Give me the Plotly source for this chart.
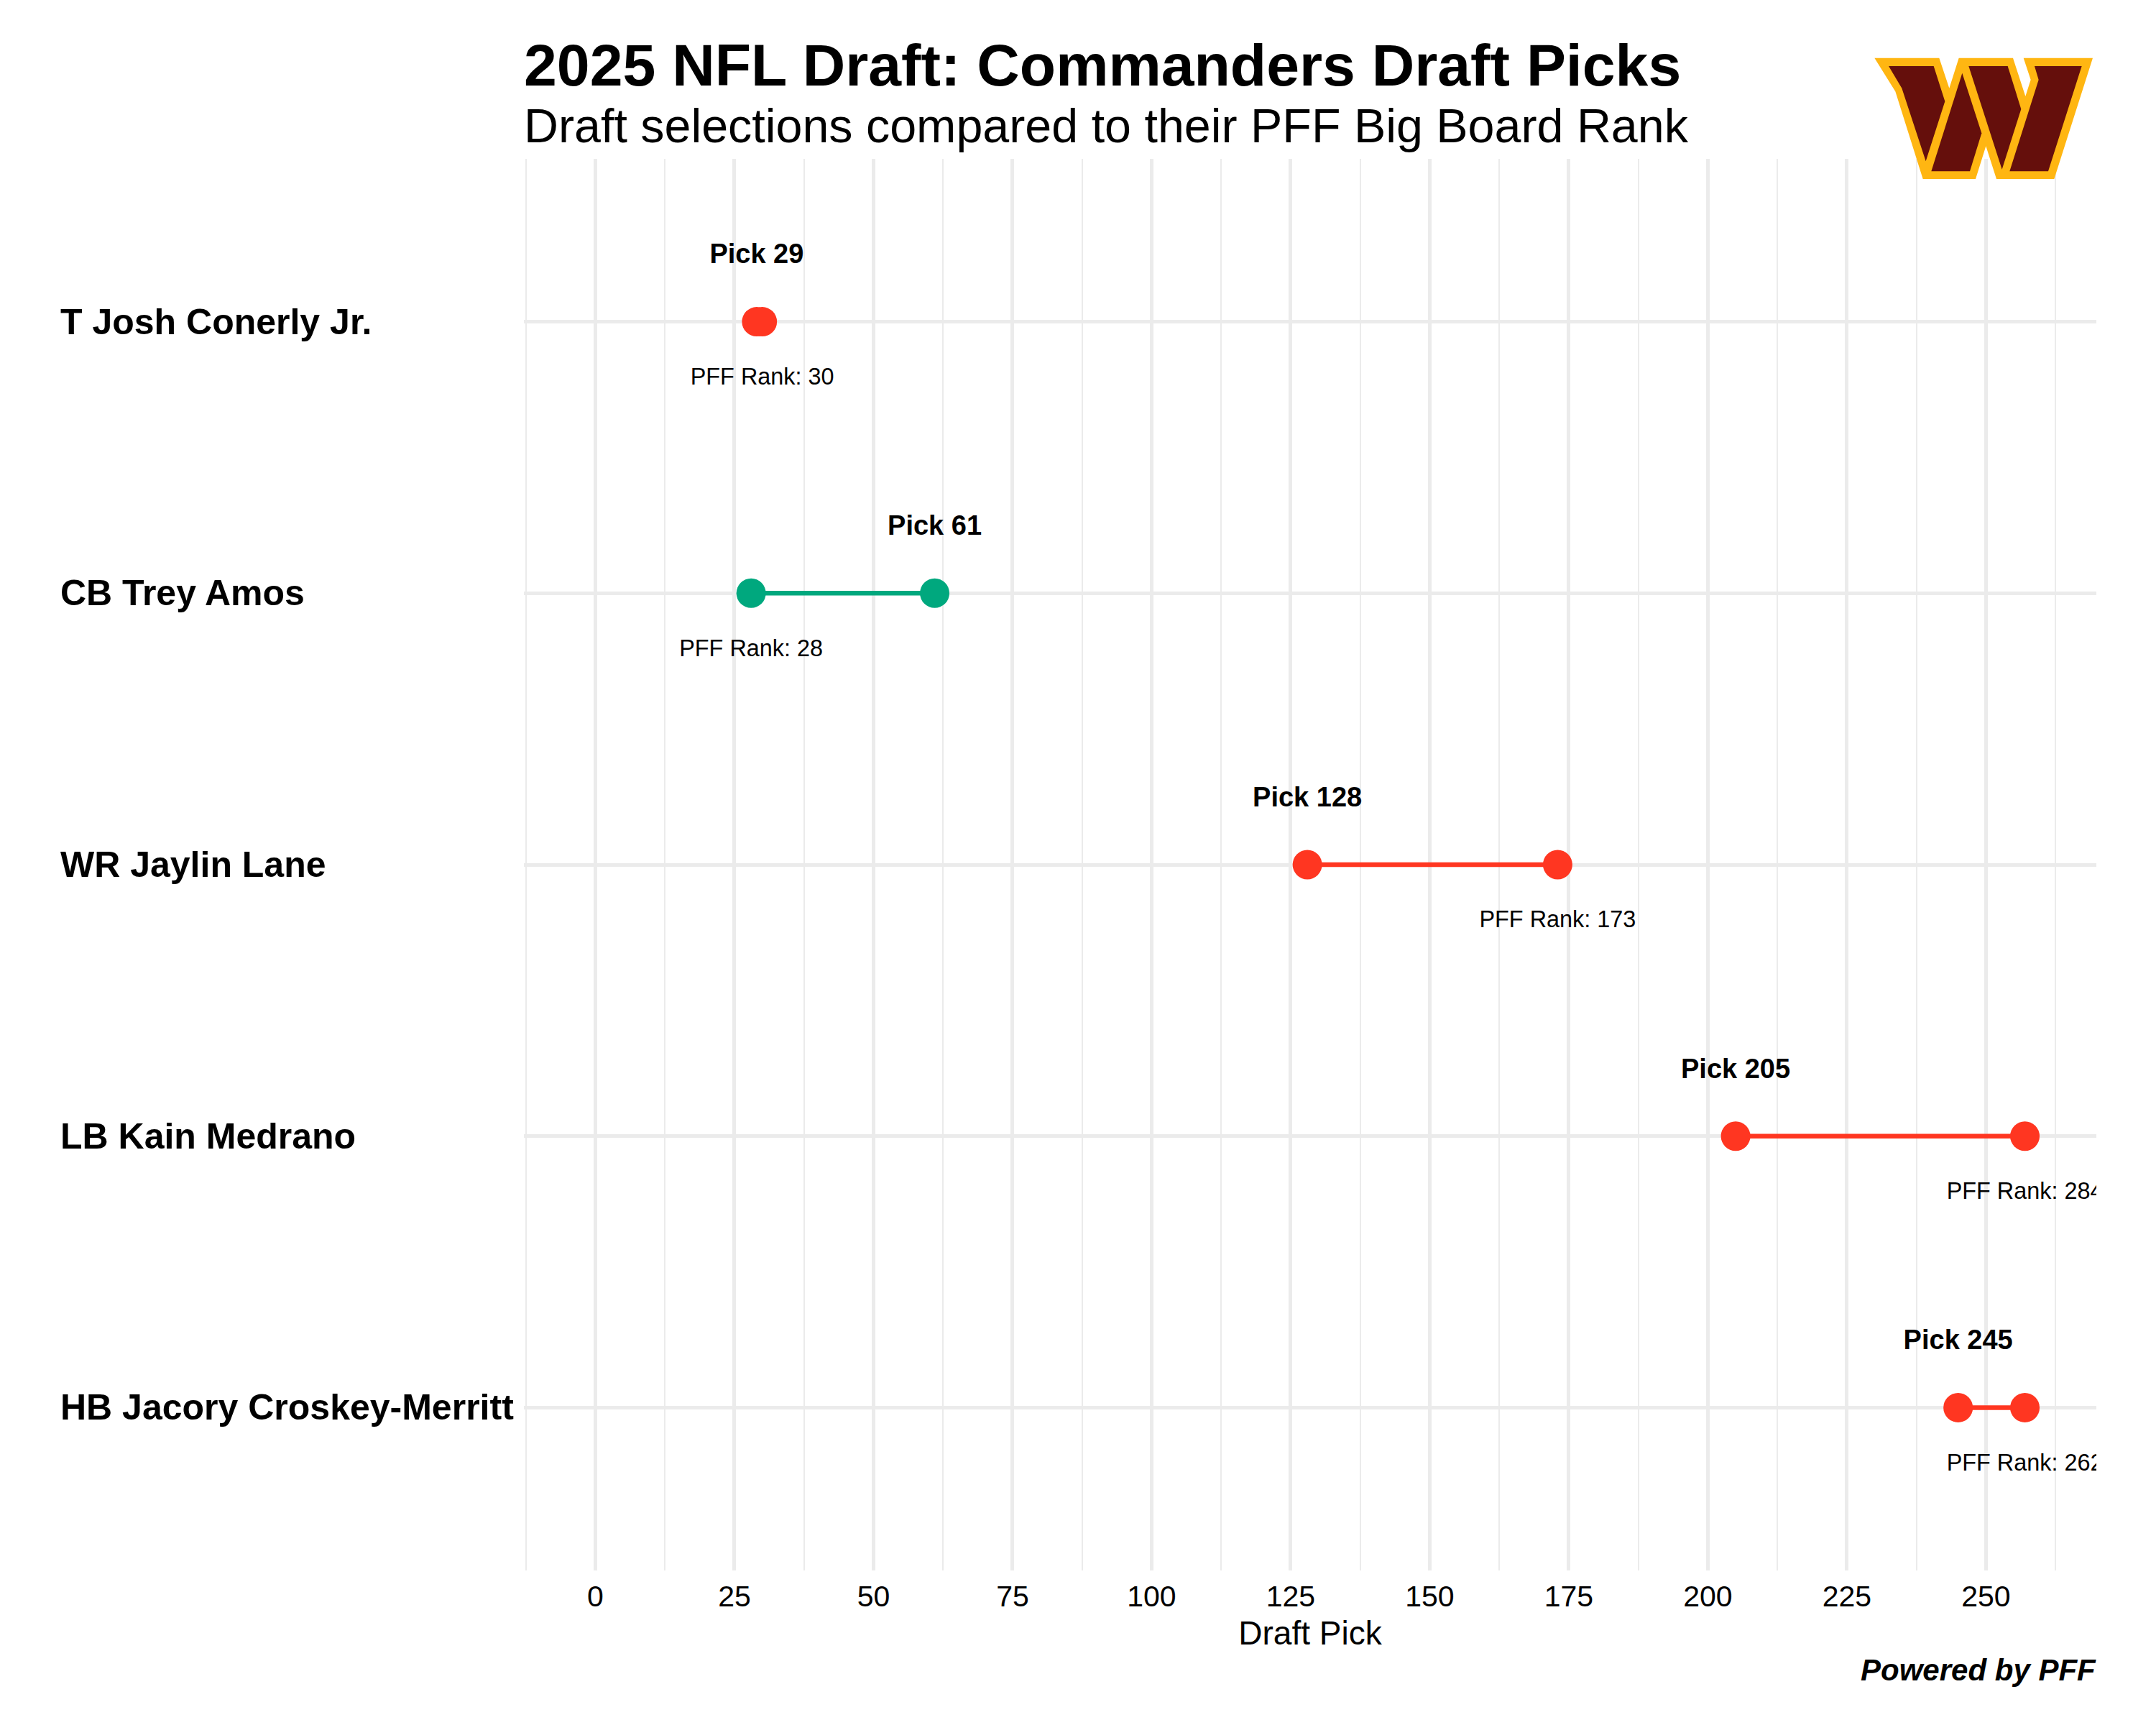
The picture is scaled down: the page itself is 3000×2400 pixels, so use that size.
import plotly.graph_objects as go

players = ["T Josh Conerly Jr.", "CB Trey Amos", "WR Jaylin Lane", "LB Kain Medrano", "HB Jacory Croskey-Merritt"]
picks = [29, 61, 128, 205, 245]
ranks = [30, 28, 173, 284, 262]
# ranks past the last pick are pinned to 257 on the chart
rank_pos = [30, 28, 173, 257, 257]
x_ticks = [0, 25, 50, 75, 100, 125, 150, 175, 200, 225, 250]

RED = "#FF3621"
GREEN = "#00A87E"
GRID = "#EBEBEB"
FONT = "Liberation Sans"

# plot panel in page pixels
LEFT, RIGHT, TOP, BOTTOM = 729, 2917, 221, 2185


def px(x):
    return (x - LEFT) / (RIGHT - LEFT)


def py(y):
    return (BOTTOM - y) / (BOTTOM - TOP)


def logo_path(points):
    coords = [(px(2550 + a / 3), py(40 + b / 3)) for a, b in points]
    return "M " + " L ".join(f"{a:.5f},{b:.5f}" for a, b in coords) + " Z"


logo_gold = [(175, 122), (445, 122), (487, 248), (527, 122), (753, 122), (805, 282), (827, 213), (797, 122),
             (1086, 122), (925, 627), (684, 627), (640, 490), (597, 627), (377, 627), (262, 262)]
logo_parts = [
    [(234, 156), (422, 156), (469, 303), (389, 553), (289, 248)],
    [(541, 185), (622, 436), (573, 595), (412, 595)],
    [(568, 156), (731, 156), (787, 335), (707, 587)],
    [(843, 156), (1040, 156), (900, 595), (739, 595), (860, 213)],
]

fig = go.Figure()

for i in range(len(players)):
    row = i + 1
    color = GREEN if picks[i] > ranks[i] else RED
    fig.add_trace(go.Scatter(x=[picks[i], rank_pos[i]], y=[row, row], mode="lines+markers",
                             line=dict(color=color, width=6.5), marker=dict(color=color, size=41),
                             showlegend=False))
    fig.add_trace(go.Scatter(x=[picks[i]], y=[row - 0.24], mode="text", text=[f"<b>Pick {picks[i]}</b>"],
                             textposition="middle center", textfont=dict(family=FONT, size=38, color="black"),
                             showlegend=False))
    fig.add_trace(go.Scatter(x=[rank_pos[i]], y=[row + 0.21], mode="text", text=[f"PFF Rank: {ranks[i]}"],
                             textposition="middle center", textfont=dict(family=FONT, size=32.4, color="black"),
                             showlegend=False))
    fig.add_annotation(xref="paper", yref="y", x=px(82), y=row, text=f"<b>{players[i]}</b>", showarrow=False,
                       xanchor="left", yanchor="middle", font=dict(family=FONT, size=50, color="black"))

fig.add_annotation(xref="paper", yref="paper", x=px(727), y=py(90), text="<b>2025 NFL Draft: Commanders Draft Picks</b>",
                   showarrow=False, xanchor="left", yanchor="middle", font=dict(family=FONT, size=82.4, color="black"))
fig.add_annotation(xref="paper", yref="paper", x=px(727), y=py(175), text="Draft selections compared to their PFF Big Board Rank",
                   showarrow=False, xanchor="left", yanchor="middle", font=dict(family=FONT, size=66.4, color="black"))
fig.add_annotation(xref="paper", yref="paper", x=px(2919), y=py(2323), text="<b><i>Powered by PFF</i></b>",
                   showarrow=False, xanchor="right", yanchor="middle", font=dict(family=FONT, size=42, color="black"))

shapes = [dict(type="path", xref="paper", yref="paper", path=logo_path(logo_gold), fillcolor="#FFB612",
               line=dict(width=0), layer="above")]
for part in logo_parts:
    shapes.append(dict(type="path", xref="paper", yref="paper", path=logo_path(part), fillcolor="#650F0C",
                       line=dict(width=0), layer="above"))

fig.update_layout(
    width=3000, height=2400, paper_bgcolor="white", plot_bgcolor="white", shapes=shapes,
    margin=dict(l=LEFT, r=3000 - RIGHT, t=TOP, b=2400 - BOTTOM, pad=0),
    font=dict(family=FONT, color="black"),
)
fig.update_xaxes(range=[-12.85, 269.85], tickmode="array", tickvals=x_ticks, showgrid=True, gridcolor=GRID, gridwidth=4.5,
                 zeroline=False, showline=False, ticks="", tickfont=dict(family=FONT, size=41, color="black"),
                 ticklabelstandoff=8,
                 minor=dict(tickmode="linear", tick0=12.5, dtick=25, showgrid=True, gridcolor=GRID, gridwidth=2.2, ticks=""),
                 title=dict(text="Draft Pick", font=dict(family=FONT, size=46, color="black"), standoff=12))
fig.update_yaxes(range=[5.6, 0.4], tickmode="array", tickvals=[1, 2, 3, 4, 5], showticklabels=False, showgrid=True,
                 gridcolor=GRID, gridwidth=4.5, zeroline=False, showline=False, ticks="")

fig.write_html("out.html", config={"displayModeBar": False}, post_script="document.body.style.margin='0';")
